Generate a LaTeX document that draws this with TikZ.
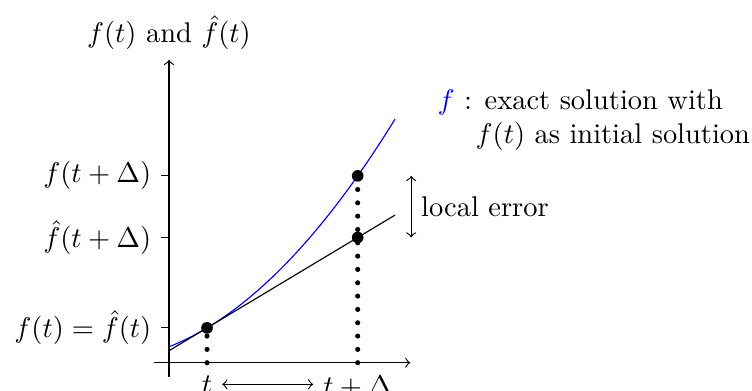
\documentclass[tikz,border=0pt]{standalone}
\usepackage{amsmath}
\begin{document}
\begin{tikzpicture}[
  dot/.style={circle, fill, inner sep=0pt, minimum size=4.1pt},
  drop/.style={line width=1.8pt, line cap=round, dash pattern=on 0pt off 4.68pt},
  plain/.style={anchor=base west, inner sep=0pt},
]
\useasboundingbox (-2.086,-0.337) rectangle (7.198,4.478);
% axes
\coordinate (xs) at (-0.19,0);
\coordinate (xe) at (2.98,0);
\coordinate (ys) at (0,-0.18);
\coordinate (ye) at (0,3.74);
\draw[->] (xs) -- (xe);
\draw[->] (ys) -- (ye);
\node[above] (yl) at (ye) {$f(t)$ and $\hat f(t)$};
% y ticks and labels
\coordinate (y1) at (0,2.307);
\coordinate (y2) at (0,1.546);
\coordinate (y3) at (0,0.43);
\draw (y1) -- ++(-0.094,0) node[left] (l1) {$f(t+\Delta)$};
\draw (y2) -- ++(-0.094,0) node[left] (l2) {$\hat f(t+\Delta)$};
\draw (y3) -- ++(-0.094,0) node[left] (l3) {$f(t)=\hat f(t)$};
% curves
\draw[blue] plot[domain=0:2.79, samples=60] (\x, {0.43+0.6*(\x-0.47)+0.22*(\x-0.47)^2});
\coordinate (gs) at (0,0.148);
\coordinate (ge) at (2.79,1.822);
\draw (gs) -- (ge);
% drop lines and points
\coordinate (a1) at (0.47,0);
\coordinate (a2) at (2.33,0);
\coordinate (c1) at (0.47,0.43);
\coordinate (c2) at (2.33,2.307);
\draw[drop] (a1) -- (c1);
\draw[drop] (a2) -- (c2);
\node[dot] (p1) at (c1) {};
\node[dot] (p2) at (c2) {};
\node[dot] (p3) at (2.33,1.546) {};
% x labels
\node[below] (tl) at (0.47,-0.035) {$t$};
\node[below] (tdl) at (2.33,-0.035) {$t+\Delta$};
\draw[<->] (tl.east) -- (tl.east -| tdl.west);
% local error
\coordinate (e1) at (2.99,2.307);
\coordinate (e2) at (2.99,1.546);
\draw[<->] (e1) -- (e2) node[midway, right] (le) {local error};
% legend
\node[plain] (ex1) at (3.31,3.12) {$\color{blue}f$ : exact solution with};
\node[plain] (ex2) at (3.78,2.71) {$f(t)$ as initial solution};
\end{tikzpicture}
\end{document}
